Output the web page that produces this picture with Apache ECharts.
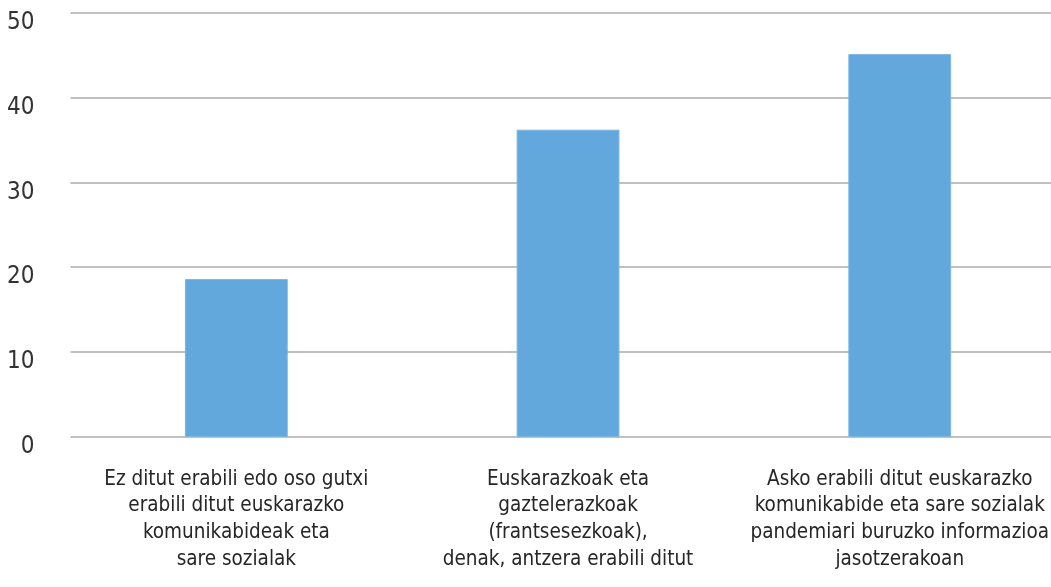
<!DOCTYPE html>
<html>
<head>
<meta charset="utf-8">
<script src="https://cdn.jsdelivr.net/npm/echarts@6/dist/echarts.min.js"></script>
<style>
html,body{margin:0;padding:0;background:#fff;overflow:hidden;width:1051px;height:587px;}
#c{width:1066px;height:587px;}
</style>
</head>
<body>
<div id="c"></div>
<script>
const categories = [
  "Ez ditut erabili edo oso gutxi\nerabili ditut euskarazko\nkomunikabideak eta\nsare sozialak",
  "Euskarazkoak eta\ngaztelerazkoak\n(frantsesezkoak),\ndenak, antzera erabili ditut",
  "Asko erabili ditut euskarazko\nkomunikabide eta sare sozialak\npandemiari buruzko informazioa\njasotzerakoan"
];
const values = [18.6, 36.2, 45.1];
const yMin = 0, yMax = 50, yStep = 10;

const chart = echarts.init(document.getElementById('c'), null, {renderer: 'canvas'});
chart.setOption({
  animation: false,
  grid: {left: 70.5, right: 0.4, top: 12.5, bottom: 150, containLabel: false},
  xAxis: {
    type: 'category',
    data: categories,
    axisLine: {show: false},
    axisTick: {show: false},
    axisLabel: {
      interval: 0,
      margin: 29,
      fontFamily: '"DejaVu Sans Condensed", "Liberation Sans Narrow", sans-serif',
      fontSize: 20.5,
      lineHeight: 26.7,
      color: '#262626'
    }
  },
  yAxis: {
    type: 'value',
    min: yMin, max: yMax, interval: yStep,
    axisLine: {show: false},
    axisTick: {show: false},
    axisLabel: {
      margin: 36,
      fontFamily: '"DejaVu Sans Condensed", "Liberation Sans Narrow", sans-serif',
      fontSize: 24,
      lineHeight: 20,
      verticalAlign: 'top',
      color: '#333333'
    },
    splitLine: {lineStyle: {color: '#c0c0c0', width: 2}}
  },
  series: [{
    type: 'bar',
    data: values,
    barWidth: '31%',
    itemStyle: {color: '#62A8DC', borderColor: '#7DB6E2', borderWidth: 1}
  }]
});
</script>
</body>
</html>
